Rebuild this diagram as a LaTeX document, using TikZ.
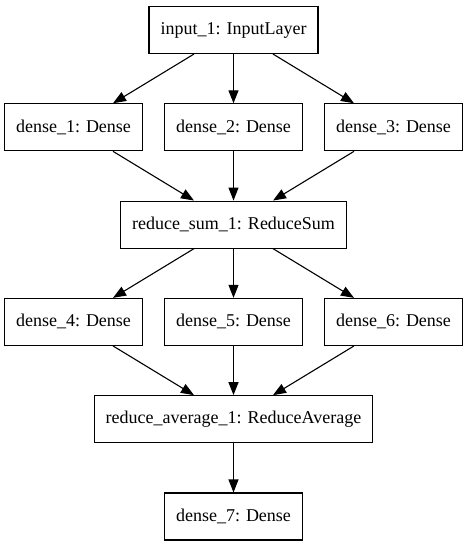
\documentclass[tikz,border=0pt]{standalone}
\usepackage{fontspec}
\setmainfont{Liberation Serif}
\usetikzlibrary{arrows.meta}

\tikzset{
  layer/.style={draw,line width=1.1pt,minimum height=47pt,inner xsep=11.5pt,
    font=\fontsize{18}{22}\selectfont},
  flow/.style={-{Triangle[length=13pt,width=10pt]},line width=1.1pt}
}

\begin{document}
\begin{tikzpicture}[x=1pt,y=1pt]
			\useasboundingbox (0,0) rectangle (467,-547);

			\node[layer] (in1) at (233.5,-30) {input\_1: InputLayer};

			\node[layer] (d1) at (73.5,-127.3) {dense\_1: Dense};
			\node[layer] (d2) at (233.5,-127.3) {dense\_2: Dense};
			\node[layer] (d3) at (393.5,-127.3) {dense\_3: Dense};

			\node[layer] (rsum) at (233.5,-224.6) {reduce\_sum\_1: ReduceSum};

			\node[layer] (d4) at (73.5,-321.9) {dense\_4: Dense};
			\node[layer] (d5) at (233.5,-321.9) {dense\_5: Dense};
			\node[layer] (d6) at (393.5,-321.9) {dense\_6: Dense};

			\node[layer] (ravg) at (233.5,-419.2) {reduce\_average\_1: ReduceAverage};

			\node[layer] (d7) at (233.5,-516.5) {dense\_7: Dense};

			\foreach \n in {d1,d2,d3} {
				\draw[flow] (in1) -- (\n);
				\draw[flow] (\n) -- (rsum);
			}
			\foreach \n in {d4,d5,d6} {
				\draw[flow] (rsum) -- (\n);
				\draw[flow] (\n) -- (ravg);
			}
			\draw[flow] (ravg) -- (d7);
		\end{tikzpicture}
\end{document}
